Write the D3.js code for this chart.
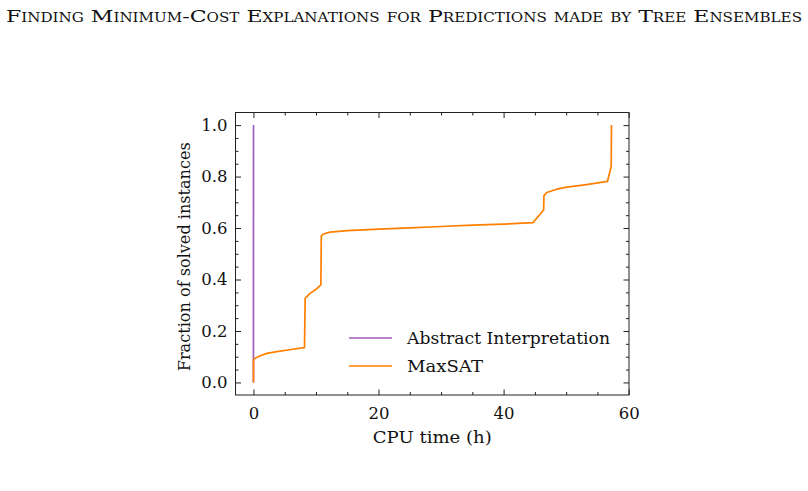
<!DOCTYPE html>
<html><head><meta charset="utf-8">
<script src="https://cdn.jsdelivr.net/npm/d3@7"></script>
<style>
html,body{margin:0;padding:0;background:#fff;}
svg{display:block;}
text{font-family:"DejaVu Serif","Liberation Serif",serif;fill:#111;}
</style></head>
<body>
<script>
const titleText = "Finding Minimum-Cost Explanations for Predictions made by Tree Ensembles";
const xLabel = "CPU time (h)";
const yLabel = "Fraction of solved instances";
const seriesNames = ["Abstract Interpretation", "MaxSAT"];
const seriesColors = ["#a05cb8", "#ff7f00"];
const xTicks = [0, 20, 40, 60];
const yTicks = [0.0, 0.2, 0.4, 0.6, 0.8, 1.0];
// Abstract Interpretation: all instances solved near t = 0
const aiTime = [0, 0, 0.01];
const aiFrac = [0, 0.5, 1.0];
// MaxSAT cumulative solved fraction
const msTime = [0, 0.02, 0.43, 1.0, 2.13, 4.0, 6.0, 8.16, 8.27, 9.0, 10.0, 10.78, 10.85, 11.2, 12.27, 15, 20, 25, 30, 35, 40, 44.7, 46.4, 46.45, 46.9, 48.5, 50.1, 53, 56.6, 57.2, 57.25];
const msFrac = [0, 0.0895, 0.096, 0.103, 0.113, 0.121, 0.128, 0.135, 0.327, 0.345, 0.362, 0.379, 0.569, 0.577, 0.584, 0.590, 0.596, 0.601, 0.606, 0.611, 0.615, 0.621, 0.670, 0.726, 0.738, 0.751, 0.759, 0.768, 0.781, 0.839, 1.0];

const W = 808, H = 491;
const m = {left: 235.5, top: 112.5, right: 629, bottom: 395};
const svg = d3.select("body").append("svg").attr("width", W).attr("height", H);

const x = d3.scaleLinear().domain([-2.87, 60.05]).range([m.left, m.right]);
const y = d3.scaleLinear().domain([-0.0488, 1.049]).range([m.bottom, m.top]);

// title
svg.append("text").attr("x", 404).attr("y", 22).attr("text-anchor", "middle")
  .style("font-variant", "small-caps").style("font-size", "17.5px")
  .attr("textLength", 796).attr("lengthAdjust", "spacingAndGlyphs")
  .text(titleText);

const majLen = 5.5, minLen = 3;
const xMinor = d3.range(0, 61, 5).filter(v => !xTicks.includes(v));
const yMinor = d3.range(0, 21).map(i => +(i * 0.05).toFixed(2)).filter(v => !yTicks.some(t => Math.abs(t - v) < 1e-9));

function styleAxis(g) {
  g.select(".domain").remove();
  g.selectAll(".tick line").attr("stroke", "#222").attr("stroke-width", 1);
  g.selectAll(".tick text").style("font-size", "16.5px").attr("fill", "#111");
}
// bottom
svg.append("g").attr("transform", `translate(0,${m.bottom})`)
  .call(d3.axisBottom(x).tickValues(xTicks).tickSize(-majLen).tickPadding(12).tickFormat(d3.format("d")))
  .call(styleAxis);
svg.append("g").attr("transform", `translate(0,${m.bottom})`)
  .call(d3.axisBottom(x).tickValues(xMinor).tickSize(-minLen).tickFormat(""))
  .call(styleAxis);
// top
svg.append("g").attr("transform", `translate(0,${m.top})`)
  .call(d3.axisTop(x).tickValues(xTicks).tickSize(-majLen).tickFormat(""))
  .call(styleAxis);
svg.append("g").attr("transform", `translate(0,${m.top})`)
  .call(d3.axisTop(x).tickValues(xMinor).tickSize(-minLen).tickFormat(""))
  .call(styleAxis);
// left
svg.append("g").attr("transform", `translate(${m.left},0)`)
  .call(d3.axisLeft(y).tickValues(yTicks).tickSize(-majLen).tickPadding(8).tickFormat(d3.format(".1f")))
  .call(styleAxis);
svg.append("g").attr("transform", `translate(${m.left},0)`)
  .call(d3.axisLeft(y).tickValues(yMinor).tickSize(-minLen).tickFormat(""))
  .call(styleAxis);
// right
svg.append("g").attr("transform", `translate(${m.right},0)`)
  .call(d3.axisRight(y).tickValues(yTicks).tickSize(-majLen).tickFormat(""))
  .call(styleAxis);
svg.append("g").attr("transform", `translate(${m.right},0)`)
  .call(d3.axisRight(y).tickValues(yMinor).tickSize(-minLen).tickFormat(""))
  .call(styleAxis);

// lines
const line = d3.line().x(d => x(d[0])).y(d => y(d[1]));
const aiData = aiTime.map((t, i) => [t, aiFrac[i]]);
const msData = msTime.map((t, i) => [t, msFrac[i]]);
svg.append("path").datum(aiData).attr("d", line).attr("fill", "none")
  .attr("stroke", seriesColors[0]).attr("stroke-width", 1.7);
svg.append("path").datum(msData).attr("d", line).attr("fill", "none")
  .attr("stroke", seriesColors[1]).attr("stroke-width", 1.7).attr("stroke-linejoin", "round");

// frame
svg.append("rect").attr("x", m.left).attr("y", m.top)
  .attr("width", m.right - m.left).attr("height", m.bottom - m.top)
  .attr("fill", "none").attr("stroke", "#222").attr("stroke-width", 1);

// legend
const legY = [338, 366];
const legW = [203, 76];
seriesNames.forEach((n, i) => {
  svg.append("line").attr("x1", 349).attr("x2", 392).attr("y1", legY[i]).attr("y2", legY[i])
    .attr("stroke", seriesColors[i]).attr("stroke-width", 1.7);
  svg.append("text").attr("x", 407).attr("y", legY[i] + 5.5).style("font-size", "16.5px")
    .attr("textLength", legW[i]).attr("lengthAdjust", "spacingAndGlyphs").text(n);
});

// axis labels
svg.append("text").attr("x", (m.left + m.right) / 2).attr("y", 443).attr("text-anchor", "middle")
  .style("font-size", "16.5px").attr("textLength", 119).attr("lengthAdjust", "spacingAndGlyphs").text(xLabel);
svg.append("text").attr("transform", `translate(190,${(m.top + m.bottom) / 2 + 3}) rotate(-90)`)
  .attr("text-anchor", "middle").style("font-size", "16px").attr("textLength", 229)
  .attr("lengthAdjust", "spacingAndGlyphs").text(yLabel);
</script>
</body></html>
